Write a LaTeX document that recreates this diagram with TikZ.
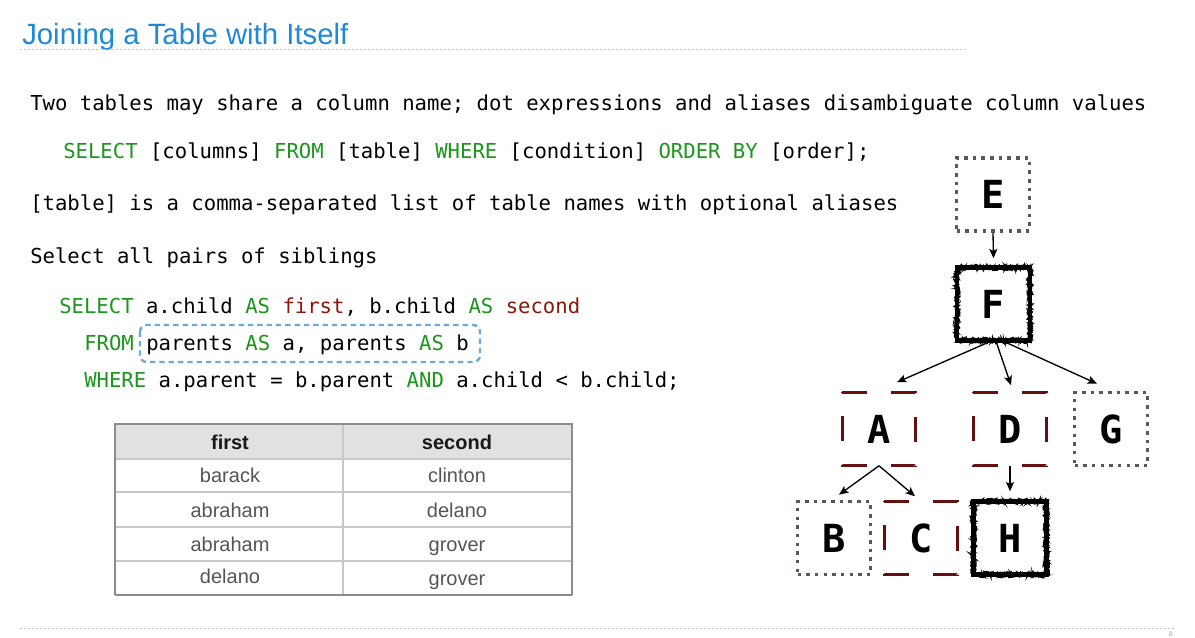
\documentclass[tikz,border=0pt]{standalone}
\usepackage{fontspec}
\setmainfont{Liberation Sans}
\newfontfamily\monof{DejaVu Sans Mono}
\usetikzlibrary{arrows.meta,decorations.pathmorphing}
\definecolor{titleblue}{RGB}{30,136,218}
\definecolor{sqlgreen}{RGB}{28,150,28}
\definecolor{sqlred}{RGB}{140,24,12}
\definecolor{boxblue}{RGB}{110,170,215}
\definecolor{dotgray}{RGB}{85,90,96}
\definecolor{dashred}{RGB}{100,16,16}
\definecolor{hdrgray}{RGB}{224,225,227}
\definecolor{cellgray}{RGB}{85,85,90}
\definecolor{rulegray}{RGB}{200,200,200}
\definecolor{outergray}{RGB}{140,140,140}
\newcommand\kwd[1]{\textcolor{sqlgreen}{#1}}
\newcommand\aliasname[1]{\textcolor{sqlred}{#1}}
\tikzset{
  codeline/.style={anchor=base west, inner sep=0pt, font=\monof\fontsize{15.45}{18}\selectfont},
  treenode/.style={minimum width=54.75pt, minimum height=54.75pt, inner sep=0pt, font=\monof\bfseries\fontsize{29}{30}\selectfont},
  dotbox/.style={treenode, draw=dotgray, line width=2.7pt, dash pattern=on 2.7pt off 3.8pt},
  roughbox/.style={treenode, draw=black, line width=3.3pt,
    postaction={draw=black, line width=1.1pt, decorate, decoration={random steps, segment length=1pt, amplitude=2pt}},
    postaction={draw=black, line width=0.8pt, decorate, decoration={random steps, segment length=1.3pt, amplitude=2.4pt}},
    postaction={draw=black, line width=0.6pt, decorate, decoration={random steps, segment length=0.8pt, amplitude=2.6pt}}},
  redbox/.style={treenode},
  redborder/.style={draw=dashred, line width=2.3pt, dash pattern=on 18.75pt off 18pt},
  arr/.style={-{Stealth[length=7pt, width=6pt, inset=1.5pt]}, line width=1pt, black},
  cell/.style={anchor=base, inner sep=0pt, font=\fontsize{15}{18}\selectfont, text=cellgray},
  hcell/.style={anchor=base, inner sep=0pt, font=\bfseries\fontsize{15}{18}\selectfont, text=black!90},
  sep/.style={draw=black!22, line width=0.75pt, dash pattern=on 1.5pt off 1.5pt}
}
\begin{document}
\begin{tikzpicture}[x=0.75pt, y=-0.75pt]
\pgfmathsetseed{7}
\useasboundingbox (0,0) rectangle (1195,638);
\fill[white] (0,0) rectangle (1195,638);

% title
\node[anchor=base west, inner sep=0pt, font=\fontsize{22}{26}\selectfont, text=titleblue] (title) at (22,45) {Joining a Table with Itself};
\draw[sep] (20,50) -- (965,50);
\draw[sep] (20,628) -- (1176,628);
\node[inner sep=0pt, font=\fontsize{5}{6}\selectfont, text=black!35] (pagenum) at (1171,634) {8};

% text lines
\node[codeline] (l1) at (30,111) {Two tables may share a column name; dot expressions and aliases disambiguate column values};
\node[codeline] (l2) at (63,159) {\kwd{SELECT} [columns] \kwd{FROM} [table] \kwd{WHERE} [condition] \kwd{ORDER BY} [order];};
\node[codeline] (l3) at (30,210) {[table] is a comma-separated list of table names with optional aliases};
\node[codeline] (l4) at (30,263) {Select all pairs of siblings};
\node[codeline] (l5) at (59,313) {\kwd{SELECT} a.child \kwd{AS} \aliasname{first}, b.child \kwd{AS} \aliasname{second}};
\node[codeline] (l6) at (84,350) {\kwd{FROM} parents \kwd{AS} a, parents \kwd{AS} b};
\node[codeline] (l7) at (84,387) {\kwd{WHERE} a.parent = b.parent \kwd{AND} a.child < b.child;};
\draw[boxblue, line width=1.8pt, dash pattern=on 4pt off 3pt, rounded corners=5pt] (140,325) rectangle (480,362);

% table
\fill[hdrgray] (115,424) rectangle (572,459);
\foreach \yy in {459,492,527,561} \draw[rulegray, line width=0.9pt] (115,\yy) -- (572,\yy);
\draw[rulegray, line width=0.9pt] (343,424) -- (343,595);
\draw[outergray, line width=1.3pt] (115,595) -- (115,424) -- (572,424) -- (572,595);
\draw[outergray, line width=1.1pt] (115,595) -- (572,595);
\node[hcell] (h1) at (230,449) {first};
\node[hcell] (h2) at (457,449) {second};
\node[cell] (c11) at (230,482) {barack};
\node[cell] (c12) at (457,482) {clinton};
\node[cell] (c21) at (230,517) {abraham};
\node[cell] (c22) at (457,517) {delano};
\node[cell] (c31) at (230,551.5) {abraham};
\node[cell] (c32) at (457,551.5) {grover};
\node[cell] (c41) at (230,583) {delano};
\node[cell] (c42) at (457,585) {grover};

% tree
\node[dotbox] (E) at (993,194.5) {E};
\node[roughbox] (F) at (993.5,304) {F};
\node[redbox] (A) at (879,429) {A};
\node[redbox] (D) at (1010,429) {D};
\node[dotbox] (G) at (1111,429) {G};
\node[dotbox] (B) at (834,538) {B};
\node[redbox] (C) at (921,538) {C};
\node[roughbox] (H) at (1010,538) {H};
\foreach \n in {A,D,C}
  \draw[redborder] (\n.north west) -- (\n.north east) -- (\n.south east) -- (\n.south west) -- cycle;

\draw[arr] (E.south) -- ([shift={(0,-7)}]F.north);
\draw[arr] ([shift={(-6,0)}]F.south) -- ([shift={(18,-10)}]A.north);
\draw[arr] ([shift={(3,0)}]F.south) -- ([shift={(1,-7)}]D.north);
\draw[arr] ([shift={(13,0)}]F.south) -- ([shift={(-14,-7)}]G.north);
\draw[arr] (A.south) -- ([shift={(5,-5)}]B.north);
\draw[arr] (A.south) -- ([shift={(-6,-5)}]C.north);
\draw[arr] (D.south) -- ([shift={(0,-8)}]H.north);
\end{tikzpicture}
\end{document}
